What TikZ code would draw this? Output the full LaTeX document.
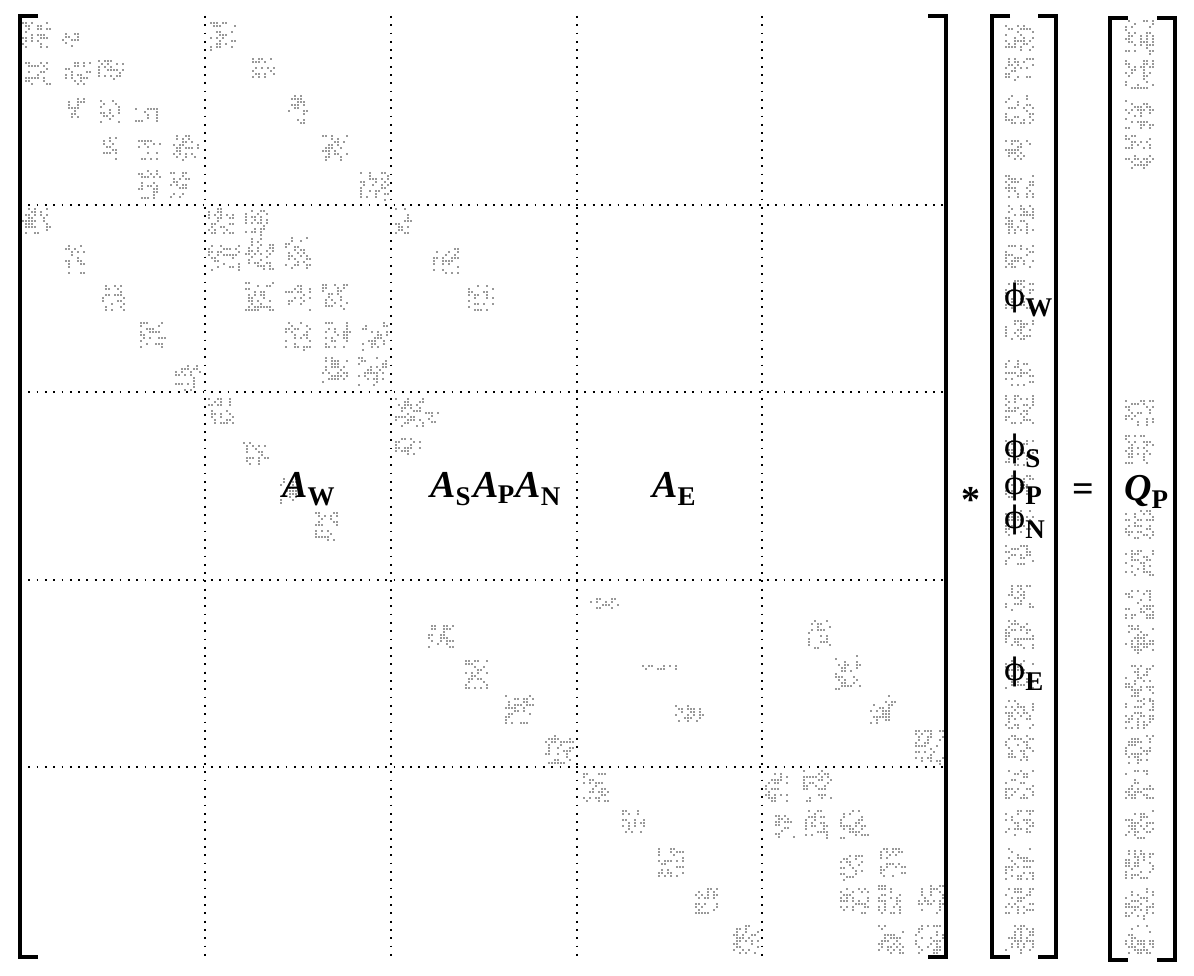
\documentclass[tikz,border=0pt]{standalone}
\usepackage{fontspec}
\setmainfont{Liberation Serif}
\newfontfamily\greekfont{DejaVu Serif}
\newcommand{\bigsize}{\fontsize{38}{40}\selectfont\bfseries}
\newcommand{\lowsub}[2]{\raisebox{-#1pt}{\fontsize{27}{28}\selectfont\bfseries #2}}
\newcommand{\amat}[1]{\textit{A}\lowsub{8}{#1}}
\newcommand{\phivec}[1]{{\greekfont\mdseries\fontsize{31}{32}\selectfont ϕ}\lowsub{10}{#1}}
% random halftone speckle in the box (x1,y1)-(x2,y2)
\newcommand{\speck}[4]{%
  \pgfmathtruncatemacro{\nd}{(#3-#1)*(#4-#2)/20}
  \foreach \i in {1,...,\nd}{
    \pgfmathsetmacro{\sx}{#1+3*floor(rnd*(#3-#1)/3)}
    \pgfmathsetmacro{\sy}{#2+3*floor(rnd*(#4-#2)/3)}
    \fill[speckdot] (\sx,\sy) rectangle ++(1.6,1.6);
  }}
\tikzset{
  speckdot/.style={gray!80},
  gridline/.style={line width=1.8pt, dash pattern=on 1.8pt off 6.5pt},
  bracket/.style={line width=4.5pt, line cap=butt, line join=miter},
  lab/.style={inner sep=0pt, anchor=base west, font=\bigsize},
}
\begin{document}
\begin{tikzpicture}[x=1pt,y=-1pt]
\useasboundingbox (0,0) rectangle (1194,976);
\pgfmathsetseed{11}
% block grid of the big matrix
\foreach \x in {205,391,577,762}
{
	\draw[gridline] (\x,16) -- (\x,957);
}
\foreach \y in {205,392,580,767}
{
	\draw[gridline] (20,\y) -- (946,\y);
}
% brackets
\draw[bracket] (38,16) -- (20,16) -- (20,957) -- (38,957);
\draw[bracket] (928,16) -- (946,16) -- (946,957) -- (928,957);
\draw[bracket] (1010,16) -- (992,16) -- (992,957) -- (1010,957);
\draw[bracket] (1038,16) -- (1056,16) -- (1056,957) -- (1038,957);
\draw[bracket] (1128,18) -- (1110,18) -- (1110,960) -- (1128,960);
\draw[bracket] (1157,18) -- (1175,18) -- (1175,960) -- (1157,960);
% sparse entries, row of blocks 1
\speck{22}{22}{52}{50} \speck{62}{33}{80}{50}
\speck{25}{62}{50}{85} \speck{65}{62}{90}{85} \speck{98}{60}{125}{80}
\speck{68}{98}{85}{123} \speck{100}{100}{120}{123} \speck{135}{108}{160}{122}
\speck{103}{137}{120}{160} \speck{138}{140}{160}{160} \speck{173}{135}{200}{160}
\speck{138}{170}{160}{200} \speck{170}{172}{190}{200}
\speck{210}{22}{235}{50} \speck{252}{58}{275}{80} \speck{288}{95}{308}{125}
\speck{322}{135}{348}{162} \speck{360}{172}{390}{200}
% row of blocks 2
\speck{22}{208}{50}{235} \speck{65}{245}{85}{275} \speck{102}{285}{125}{312}
\speck{140}{322}{165}{347} \speck{175}{365}{200}{390}
\speck{208}{208}{235}{235} \speck{245}{210}{270}{235}
\speck{208}{245}{240}{270} \speck{245}{238}{275}{270} \speck{285}{237}{310}{270}
\speck{245}{282}{275}{312} \speck{285}{285}{312}{310} \speck{322}{284}{348}{310}
\speck{285}{322}{312}{350} \speck{325}{322}{350}{350} \speck{362}{322}{388}{350}
\speck{322}{357}{348}{385} \speck{358}{357}{388}{385}
\speck{395}{208}{412}{235} \speck{433}{248}{460}{275} \speck{468}{285}{495}{312}
% row of blocks 3
\speck{208}{398}{235}{425} \speck{243}{442}{268}{465} \speck{280}{478}{300}{505}
\speck{315}{512}{340}{540}
\speck{395}{398}{425}{430} \speck{425}{412}{440}{425} \speck{395}{435}{420}{455}
% row of blocks 4
\speck{428}{625}{455}{650} \speck{465}{660}{490}{690}
\speck{505}{695}{535}{725} \speck{545}{735}{575}{765}
\speck{590}{598}{620}{610} \speck{630}{665}{680}{670} \speck{675}{705}{705}{725}
\speck{808}{620}{830}{648} \speck{835}{655}{860}{690}
\speck{870}{695}{897}{725} \speck{915}{730}{944}{765}
% row of blocks 5
\speck{583}{773}{610}{803} \speck{622}{810}{645}{835} \speck{658}{848}{685}{878}
\speck{695}{888}{720}{915} \speck{733}{925}{760}{955}
\speck{765}{773}{790}{803} \speck{803}{770}{832}{803}
\speck{775}{815}{795}{840} \speck{805}{810}{830}{840} \speck{840}{810}{868}{840}
\speck{840}{855}{865}{880} \speck{880}{848}{905}{878}
\speck{840}{888}{870}{915} \speck{878}{885}{905}{915} \speck{918}{885}{944}{915}
\speck{878}{925}{905}{955} \speck{915}{925}{944}{955}
% vector of unknowns
\foreach \ya/\yb in {25/50,58/80,95/125,140/160,175/200,205/235,245/270,280/310,320/340,360/385,395/425,440/465,475/500,510/535,545/565,585/610,620/650,660/690,700/730,735/760,770/800,810/835,848/880,888/915,925/955}
{
	\speck{1005}{\ya}{1035}{\yb}
}
% right-hand side
\foreach \ya/\yb in {20/55,60/90,100/130,135/150,155/170,400/425,435/465,510/540,550/575,590/620,625/655,665/700,700/730,735/765,770/800,810/840,850/880,888/920,925/955}
{
	\speck{1125}{\ya}{1155}{\yb}
}
% labels
\node[lab] (aw) at (282,497) {\amat{W}};
\node[lab] (asapan) at (430,497) {\amat{S}\hspace{3pt}\textit{A}\hspace{-1pt}\lowsub{6}{P}\hspace{1pt}\amat{N}};
\node[lab] (ae) at (652,497) {\amat{E}};
\node[lab] (phiw) at (1004,306) {\phivec{W}};
\node[lab] (phis) at (1004,457) {\phivec{S}};
\node[lab] (phip) at (1004,494) {\phivec{P}};
\node[lab] (phin) at (1004,528) {\phivec{N}};
\node[lab] (phie) at (1004,680) {\phivec{E}};
\node[lab] (qp) at (1124,500) {\textit{Q}\lowsub{8}{P}};
\node[inner sep=0pt, font=\bigsize] (times) at (971,500) {*};
\node[inner sep=0pt, font=\bigsize] (equals) at (1083,493) {=};
\end{tikzpicture}
\end{document}
